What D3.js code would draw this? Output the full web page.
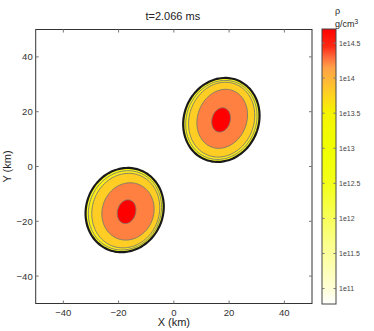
<!DOCTYPE html>
<html>
<head>
<meta charset="utf-8">
<script src="https://cdn.jsdelivr.net/npm/d3@7"></script>
<style>
  body { margin: 0; background: #fff; }
  svg text { font-family: "Liberation Sans", Arial, sans-serif; }
</style>
</head>
<body>
<div id="chart"></div>
<script>
// ---- data (km) ----
const title = "t=2.066 ms";
const axisTicks = [-40, -20, 0, 20, 40];
const cbarTicks = [11, 11.5, 12, 12.5, 13, 13.5, 14, 14.5];
const cbarDomain = [10.78, 14.70];

// contour levels of log10(rho), outermost first
const levels   = [11.2, 13.1, 13.6, 14.1, 14.55];
const levelFill = ["#fbfb1e", "#fdec1c", "#ffcd24", "#ff8040", "#ff0000"];

// ellipse per level: centre x, centre y, minor semi axis, major semi axis, tilt (deg)
const starA = {
  cx:   [17.2, 17.2, 17.3, 17.5, 17.1],
  cy:   [17.0, 17.0, 17.1, 17.4, 17.0],
  a:    [13.5, 12.6, 11.7, 8.9, 3.3],
  b:    [15.6, 14.7, 13.9, 11.0, 4.5],
  tilt: [22, 22, 20, 20, 15]
};
const starB = {
  cx:   [-17.8, -17.7, -17.4, -16.6, -17.1],
  cy:   [-15.9, -16.0, -16.1, -16.4, -16.5],
  a:    [13.9, 13.0, 12.1, 9.3, 3.3],
  b:    [15.6, 14.7, 13.8, 10.6, 4.4],
  tilt: [22, 22, 20, 20, 15]
};

// colour map for the colour bar
const cmapStops = [10.78, 11.0, 11.5, 12.0, 12.5, 13.0, 13.5, 13.75, 14.0, 14.15, 14.3, 14.45, 14.7];
const cmapColors = ["#ffffff", "#fffed6", "#fcff9c", "#f8ff5a", "#f3ff18", "#f0ff00", "#f4f400",
                    "#ffd41e", "#ffb43a", "#ffa048", "#ff6a3c", "#ff2a14", "#ff0000"];

// ---- layout ----
const W = 374, H = 331;
const svg = d3.select("#chart").append("svg").attr("width", W).attr("height", H);

const x = d3.scaleLinear().domain([-50, 50]).range([35.7, 312]);
const y = d3.scaleLinear().domain([-50, 50]).range([303.5, 29.5]);

// contour blobs
function ellipsePath(s, i) {
  const th = s.tilt[i] * Math.PI / 180;
  const pts = d3.range(0, 360, 4).map(d => {
    const t = d * Math.PI / 180;
    const u = s.a[i] * Math.cos(t), v = s.b[i] * Math.sin(t);
    return [x(s.cx[i] + u * Math.cos(th) + v * Math.sin(th)),
            y(s.cy[i] - u * Math.sin(th) + v * Math.cos(th))];
  });
  return d3.line().curve(d3.curveCardinalClosed)(pts);
}

const blobs = svg.append("g");
[starA, starB].forEach(s => {
  levels.forEach((lv, i) => {
    blobs.append("path")
      .attr("d", ellipsePath(s, i))
      .attr("fill", levelFill[i])
      .attr("stroke", i == 0 ? "#1a1a1a" : "#7a7a6a")
      .attr("stroke-width", i == 0 ? 2.2 : 0.9);
  });
});

// axes box
const frame = svg.append("g");
frame.append("rect")
  .attr("x", x(-50)).attr("y", y(50))
  .attr("width", x(50) - x(-50)).attr("height", y(-50) - y(50))
  .attr("fill", "none").attr("stroke", "#333").attr("stroke-width", 1);

axisTicks.forEach(t => {
  // inside ticks on all four sides
  frame.append("line").attr("x1", x(t)).attr("x2", x(t)).attr("y1", y(-50)).attr("y2", y(-50) - 3).attr("stroke", "#777");
  frame.append("line").attr("x1", x(t)).attr("x2", x(t)).attr("y1", y(50)).attr("y2", y(50) + 3).attr("stroke", "#777");
  frame.append("line").attr("y1", y(t)).attr("y2", y(t)).attr("x1", x(-50)).attr("x2", x(-50) + 3).attr("stroke", "#777");
  frame.append("line").attr("y1", y(t)).attr("y2", y(t)).attr("x1", x(50)).attr("x2", x(50) - 3).attr("stroke", "#777");
});

const fmt = d => d < 0 ? "\u2212" + Math.abs(d) : String(d);

svg.append("g").selectAll("text").data(axisTicks).join("text")
  .attr("x", d => x(d)).attr("y", y(-50) + 12)
  .attr("text-anchor", "middle").attr("font-size", 9.5).attr("fill", "#333")
  .text(fmt);

svg.append("g").selectAll("text").data(axisTicks).join("text")
  .attr("x", x(-50) - 3).attr("y", d => y(d) + 3.5)
  .attr("text-anchor", "end").attr("font-size", 9.5).attr("fill", "#333")
  .text(fmt);

svg.append("text").attr("x", (x(-50) + x(50)) / 2).attr("y", 326)
  .attr("text-anchor", "middle").attr("font-size", 11).attr("fill", "#222").text("X (km)");

svg.append("text")
  .attr("transform", `translate(11,${(y(-50) + y(50)) / 2}) rotate(-90)`)
  .attr("text-anchor", "middle").attr("font-size", 11).attr("fill", "#222").text("Y (km)");

svg.append("text").attr("x", (x(-50) + x(50)) / 2 - 1).attr("y", 20)
  .attr("text-anchor", "middle").attr("font-size", 11).attr("fill", "#222").text(title);

// colour bar
const cx0 = 322, cw = 14;
const c = d3.scaleLinear().domain(cbarDomain).range([304, 29]);

const grad = svg.append("defs").append("linearGradient")
  .attr("id", "cbar").attr("x1", 0).attr("x2", 0).attr("y1", 1).attr("y2", 0);
grad.selectAll("stop").data(cmapStops).join("stop")
  .attr("offset", d => (d - cbarDomain[0]) / (cbarDomain[1] - cbarDomain[0]))
  .attr("stop-color", (d, i) => cmapColors[i]);

svg.append("rect")
  .attr("x", cx0).attr("y", c(cbarDomain[1]))
  .attr("width", cw).attr("height", c(cbarDomain[0]) - c(cbarDomain[1]))
  .attr("fill", "url(#cbar)").attr("stroke", "#444").attr("stroke-width", 1);

const cb = svg.append("g");
cbarTicks.forEach(t => {
  cb.append("line").attr("x1", cx0).attr("x2", cx0 + 2.5).attr("y1", c(t)).attr("y2", c(t)).attr("stroke", "#777");
  cb.append("line").attr("x1", cx0 + cw - 2.5).attr("x2", cx0 + cw).attr("y1", c(t)).attr("y2", c(t)).attr("stroke", "#777");
});
cb.selectAll("text").data(cbarTicks).join("text")
  .attr("x", cx0 + cw + 3).attr("y", d => c(d) + 2.5)
  .attr("font-size", 7).attr("fill", "#444")
  .text(d => "1e" + d);

svg.append("text").attr("x", 335).attr("y", 14).attr("font-size", 9).attr("fill", "#222").text("\u03c1");
const unit = svg.append("text").attr("x", 335).attr("y", 27).attr("font-size", 9).attr("fill", "#222");
unit.append("tspan").text("g/cm");
unit.append("tspan").attr("dy", -3.5).attr("font-size", 6.5).text("3");
</script>
</body>
</html>
